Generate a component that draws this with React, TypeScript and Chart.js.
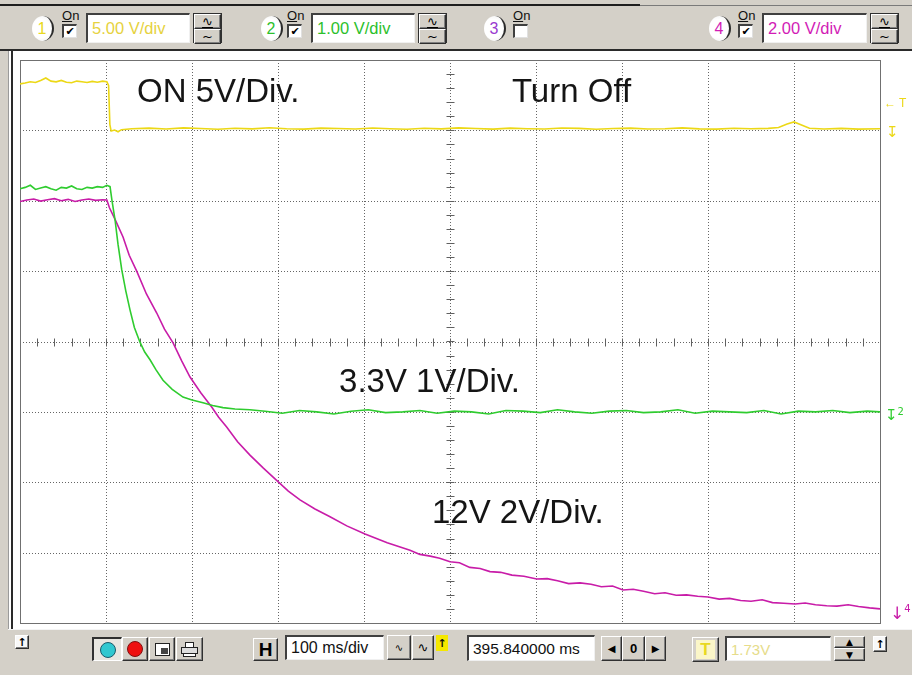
import React, { useEffect, useRef } from "react";
import { Chart, registerables } from "chart.js";

Chart.register(...registerables);

// ---------- data ----------
// Channel 1 (yellow, 5 V/div, ground marker at division 7)
const CH1_TIME_MS = [
  0, 6, 12, 18, 24, 30, 36, 42, 48, 54, 60, 66, 72, 78, 84, 90, 96, 101,
  103, 104.5, 106, 110, 114, 118,
  130, 150, 170, 190, 210, 230, 250, 270, 290, 310, 330, 350, 370, 390, 410, 430, 450, 470, 490,
  510, 530, 550, 570, 590, 610, 630, 650, 670, 690, 710, 730, 750, 770, 790, 810, 830, 850, 870,
  882, 892, 900, 908, 918, 935, 955, 975, 1000,
];
const CH1_VOLTS = [
  3.3, 3.36, 3.45, 3.4, 3.55, 3.72, 3.5, 3.45, 3.55, 3.42, 3.38, 3.5, 3.45, 3.4, 3.48, 3.42, 3.5, 3.45,
  3.2, 0.4, -0.05, 0.02, -0.1, 0.05,
  0.12, 0.16, 0.1, 0.18, 0.13, 0.08, 0.15, 0.11, 0.19, 0.12, 0.09, 0.16, 0.13, 0.1, 0.17, 0.12, 0.08, 0.15, 0.11,
  0.18, 0.13, 0.09, 0.16, 0.12, 0.1, 0.17, 0.14, 0.08, 0.13, 0.16, 0.1, 0.12, 0.18, 0.11, 0.09, 0.15, 0.12, 0.14,
  0.2, 0.45, 0.6, 0.4, 0.15, 0.1, 0.14, 0.09, 0.12,
];

// Channel 2 (green, 1 V/div, ground marker at division 3)
const CH2_TIME_MS = [
  0, 6, 12, 18, 24, 30, 36, 42, 48, 54, 60, 66, 72, 78, 84, 90, 96, 101,
  104.7, 107, 110.5, 114, 118.3, 123, 127.9, 133, 139.5, 145, 151.2, 158, 166.3, 177, 189.5, 200, 212.8, 224, 236, 250, 267.4,
  285, 305, 325, 345, 365, 385, 405, 425, 445, 465, 485, 505, 525, 545, 565, 585, 605, 625, 645, 665,
  685, 705, 725, 745, 765, 785, 805, 825, 845, 865, 885, 905, 925, 945, 965, 985, 1000,
];
const CH2_VOLTS = [
  3.17, 3.19, 3.22, 3.16, 3.18, 3.2, 3.17, 3.15, 3.19, 3.18, 3.21, 3.17, 3.16, 3.19, 3.18, 3.2, 3.19, 3.22,
  3.2, 3.0, 2.73, 2.38, 2.02, 1.72, 1.45, 1.2, 0.99, 0.85, 0.74, 0.6, 0.45, 0.32, 0.21, 0.17, 0.13, 0.09, 0.06, 0.04, 0.03,
  0.01, -0.02, 0.02, 0.0, -0.03, 0.01, 0.03, -0.01, 0.0, 0.02, -0.02, 0.01, 0.0, -0.03, 0.02, 0.01, -0.01, 0.03, 0.0, -0.02,
  0.01, 0.02, -0.01, 0.0, 0.03, -0.02, 0.01, 0.0, -0.01, 0.02, -0.03, 0.01, 0.0, 0.02, -0.01, 0.01, 0.0,
];

// Channel 4 (magenta, 2 V/div, ground at the bottom edge)
const CH4_TIME_MS = [
  0, 8, 16, 24, 32, 40, 48, 56, 64, 72, 80, 88, 96, 101,
  104, 110, 119.8, 127, 135.7, 147, 159, 168, 178, 188, 197.7, 210, 222.9, 231, 240.3, 253, 267.4, 283, 300, 312,
  325.6, 343, 360.5, 380, 401.2, 427,
  453.5, 465, 477, 488, 500, 511, 523, 535, 546.5, 559, 572, 586, 600.8, 613, 625, 638, 651.2, 664, 676, 689,
  701.2, 713, 725, 738, 750, 763, 775, 788, 800, 813, 825, 838, 850, 863, 875, 888, 901.2, 913, 925, 938,
  950, 963, 975, 988, 1000,
];
const CH4_VOLTS = [
  11.98, 12.02, 12.05, 11.99, 12.03, 12.06, 12.0, 12.04, 11.98, 12.02, 12.05, 12.01, 12.03, 12.02,
  11.8, 11.5, 10.97, 10.45, 10.0, 9.35, 8.81, 8.35, 7.96, 7.45, 6.99, 6.55, 6.14, 5.85, 5.57, 5.15, 4.77, 4.4, 4.02, 3.75,
  3.5, 3.24, 3.02, 2.76, 2.53, 2.28,
  2.07, 1.95, 1.9, 1.84, 1.74, 1.71, 1.58, 1.55, 1.46, 1.44, 1.36, 1.33, 1.25, 1.26, 1.2, 1.12, 1.14, 1.1, 1.03, 1.05,
  0.94, 0.96, 0.9, 0.83, 0.86, 0.79, 0.8, 0.76, 0.74, 0.68, 0.7, 0.64, 0.62, 0.66, 0.58, 0.56, 0.54, 0.57, 0.52, 0.49,
  0.48, 0.52, 0.47, 0.43, 0.4,
];

// Channel settings: volts per division and ground position (divisions from bottom)
const CH1_SCALE = 5;
const CH1_GROUND = 7;
const CH2_SCALE = 1;
const CH2_GROUND = 3;
const CH4_SCALE = 2;
const CH4_GROUND = 0;

// Screen: 10 horizontal divisions of 100 ms, 8 vertical divisions
const X_GRID_MS = [100, 200, 300, 400, 500, 600, 700, 800, 900];
const Y_GRID_DIV = [1, 2, 3, 4, 5, 6, 7];
const X_CENTER_MS = 500;
const Y_CENTER_DIV = 4;

// Annotations on the screen (time in ms, baseline in divisions)
const NOTE_TEXTS = ["ON 5V/Div.", "Turn Off", "3.3V 1V/Div.", "12V 2V/Div."];
const NOTE_TIMES = [136, 572, 371, 479];
const NOTE_DIVS = [7.4, 7.4, 3.28, 1.42];

const COL_CH1 = "#ecd816";
const COL_CH2 = "#2fcc2f";
const COL_CH4 = "#c81ca8";

const FONT = '"Liberation Sans", Arial, Helvetica, sans-serif';

function toPoints(times: number[], volts: number[], scale: number, ground: number) {
  const n = Math.min(times.length, volts.length);
  const out: { x: number; y: number }[] = [];
  for (let i = 0; i < n; i++) out.push({ x: times[i], y: ground + volts[i] / scale });
  return out;
}

const scopeGrid = {
  id: "scopeGrid",
  beforeDatasetsDraw(chart: any) {
    const { ctx, chartArea: a, scales } = chart;
    const xs = scales.x;
    const ys = scales.y;
    ctx.save();
    ctx.strokeStyle = "#666666";
    ctx.lineWidth = 1;
    ctx.setLineDash([1, 2]);
    for (const v of X_GRID_MS) {
      const px = Math.round(xs.getPixelForValue(v)) + 0.5;
      ctx.beginPath();
      ctx.moveTo(px, a.top);
      ctx.lineTo(px, a.bottom);
      ctx.stroke();
    }
    for (const v of Y_GRID_DIV) {
      const py = Math.round(ys.getPixelForValue(v)) + 0.5;
      ctx.beginPath();
      ctx.moveTo(a.left, py);
      ctx.lineTo(a.right, py);
      ctx.stroke();
    }
    ctx.setLineDash([]);
    // minor ticks on the centre axes (5 per division)
    const cy = Math.round(ys.getPixelForValue(Y_CENTER_DIV)) + 0.5;
    const cx = Math.round(xs.getPixelForValue(X_CENTER_MS)) + 0.5;
    ctx.strokeStyle = "#606060";
    for (let t = 20; t < 1000; t += 20) {
      const px = Math.round(xs.getPixelForValue(t)) + 0.5;
      ctx.beginPath();
      ctx.moveTo(px, cy - 4);
      ctx.lineTo(px, cy + 4);
      ctx.stroke();
    }
    for (let d = 0.2; d < 8; d += 0.2) {
      const py = Math.round(ys.getPixelForValue(d)) + 0.5;
      ctx.beginPath();
      ctx.moveTo(cx - 4, py);
      ctx.lineTo(cx + 4, py);
      ctx.stroke();
    }
    // frame
    ctx.strokeStyle = "#707070";
    ctx.strokeRect(Math.round(a.left) + 0.5, Math.round(a.top) + 0.5, Math.round(a.right - a.left), Math.round(a.bottom - a.top));
    // notes
    ctx.fillStyle = "#151515";
    ctx.font = `33px ${FONT}`;
    ctx.textAlign = "left";
    ctx.textBaseline = "alphabetic";
    NOTE_TEXTS.forEach((t, i) => {
      ctx.fillText(t, xs.getPixelForValue(NOTE_TIMES[i]), ys.getPixelForValue(NOTE_DIVS[i]));
    });
    ctx.restore();
  },
};

type CSS = React.CSSProperties;
const abs = (x: number, y: number, w: number, h: number): CSS => ({
  position: "absolute",
  left: x,
  top: y,
  width: w,
  height: h,
  boxSizing: "border-box",
});
const raised: CSS = {
  background: "#d4d0c8",
  borderTop: "1px solid #ffffff",
  borderLeft: "1px solid #ffffff",
  borderRight: "1px solid #303030",
  borderBottom: "1px solid #303030",
  boxShadow: "inset -1px -1px 0 #808080",
  display: "flex",
  alignItems: "center",
  justifyContent: "center",
  color: "#000",
};
const sunken: CSS = {
  background: "#ffffff",
  borderTop: "2px solid #404040",
  borderLeft: "2px solid #404040",
  borderRight: "1px solid #f0f0f0",
  borderBottom: "1px solid #f0f0f0",
  display: "flex",
  alignItems: "center",
  paddingLeft: 4,
  whiteSpace: "nowrap",
  overflow: "hidden",
};

function Badge({ x, n, color }: { x: number; n: string; color: string }) {
  return (
    <div
      style={{
        ...abs(x, 16, 22, 25),
        borderRadius: "50%",
        background: "radial-gradient(circle at 45% 50%, #ffffff 55%, #ececec 100%)",
        borderRight: "2px solid #2a2a2a",
        color,
        font: `16px ${FONT}`,
        display: "flex",
        alignItems: "center",
        justifyContent: "center",
      }}
    >
      {n}
    </div>
  );
}

function OnBox({ x, checked }: { x: number; checked: boolean }) {
  return (
    <>
      <div style={{ ...abs(x, 8, 20, 16), font: `13px ${FONT}`, color: "#111", lineHeight: "16px" }}>
        <span style={{ textDecoration: "underline" }}>O</span>n
      </div>
      <div
        style={{
          ...abs(x, 24, 15, 14),
          background: "#fff",
          borderTop: "2px solid #404040",
          borderLeft: "2px solid #404040",
          borderRight: "1px solid #e0e0e0",
          borderBottom: "1px solid #e0e0e0",
          font: `bold 11px "DejaVu Sans", sans-serif`,
          color: "#000",
          display: "flex",
          alignItems: "center",
          justifyContent: "center",
          lineHeight: "10px",
        }}
      >
        {checked ? "✔" : ""}
      </div>
    </>
  );
}

function VoltBox({ x, w, text, color }: { x: number; w: number; text: string; color: string }) {
  return <div style={{ ...abs(x, 13, w, 30), ...sunken, color, font: `16.5px ${FONT}` }}>{text}</div>;
}

function Spin({ x }: { x: number }) {
  const half: CSS = { ...raised, height: 15, font: `13px "DejaVu Sans", sans-serif`, lineHeight: "13px" };
  return (
    <div style={{ ...abs(x, 13, 29, 30), border: "1px solid #303030", display: "flex", flexDirection: "column" }}>
      <div style={{ ...half, textDecoration: "underline" }}>∿</div>
      <div style={half}>~</div>
    </div>
  );
}

export default function App() {
  const ref = useRef<HTMLCanvasElement>(null);

  useEffect(() => {
    if (!ref.current) return;
    const chart = new Chart(ref.current, {
      type: "line",
      data: {
        datasets: [
          {
            label: "CH1",
            data: toPoints(CH1_TIME_MS, CH1_VOLTS, CH1_SCALE, CH1_GROUND),
            borderColor: COL_CH1,
            borderWidth: 1.6,
            pointRadius: 0,
            tension: 0,
          },
          {
            label: "CH2",
            data: toPoints(CH2_TIME_MS, CH2_VOLTS, CH2_SCALE, CH2_GROUND),
            borderColor: COL_CH2,
            borderWidth: 1.6,
            pointRadius: 0,
            tension: 0,
          },
          {
            label: "CH4",
            data: toPoints(CH4_TIME_MS, CH4_VOLTS, CH4_SCALE, CH4_GROUND),
            borderColor: COL_CH4,
            borderWidth: 1.6,
            pointRadius: 0,
            tension: 0,
          },
        ],
      },
      options: {
        responsive: false,
        animation: false,
        devicePixelRatio: 1,
        layout: { padding: { left: 20, top: 9, right: 32, bottom: 6 } },
        plugins: { legend: { display: false }, tooltip: { enabled: false } },
        events: [],
        scales: {
          x: { type: "linear", min: 0, max: 1000, display: false },
          y: { type: "linear", min: 0, max: 8, display: false },
        },
      },
      plugins: [scopeGrid],
    });
    return () => chart.destroy();
  }, []);

  const small: CSS = { position: "absolute", lineHeight: "14px", whiteSpace: "nowrap" };

  return (
    <div style={{ position: "fixed", left: 0, top: 0, width: 912, height: 675, background: "#d4d0c8", overflow: "hidden", fontFamily: FONT }}>
      {/* window edge */}
      <div style={{ ...abs(0, 4, 640, 2), background: "#1e1e1e" }} />
      <div style={{ ...abs(640, 5, 272, 1), background: "#7a7a7a" }} />

      {/* top channel bar */}
      <Badge x={32} n="1" color="#e8d820" />
      <OnBox x={62} checked />
      <VoltBox x={86} w={104} text="5.00 V/div" color="#e6d240" />
      <Spin x={193} />

      <Badge x={261} n="2" color="#2cbf2c" />
      <OnBox x={287} checked />
      <VoltBox x={311} w={104} text="1.00 V/div" color="#2cbf2c" />
      <Spin x={418} />

      <Badge x={484} n="3" color="#9a3ad0" />
      <OnBox x={513} checked={false} />

      <Badge x={709} n="4" color="#d21cb6" />
      <OnBox x={738} checked />
      <VoltBox x={762} w={105} text="2.00 V/div" color="#d21cb6" />
      <Spin x={870} />

      {/* screen panel */}
      <div style={{ ...abs(0, 49, 912, 2), background: "#2a2a2a" }} />
      <div style={{ ...abs(8, 51, 904, 579), background: "#ffffff", borderLeft: "1px solid #9a9a9a" }} />
      <div style={{ ...abs(11, 51, 2, 579), background: "#2a2a2a" }} />
      <div style={{ ...abs(8, 629, 904, 1), background: "#f4f4f4" }} />

      <canvas ref={ref} width={912} height={578} style={{ position: "absolute", left: 0, top: 51, width: 912, height: 578 }} />

      {/* right side markers */}
      <div style={{ ...small, left: 884, top: 96, color: COL_CH1, font: `12px ${FONT}` }}>← T</div>
      <div style={{ ...small, left: 886, top: 123, color: COL_CH1, font: `15px "DejaVu Sans", sans-serif` }}>↧</div>
      <div style={{ ...small, left: 885, top: 406, color: COL_CH2, font: `15px "DejaVu Sans", sans-serif` }}>
        ↧<span style={{ fontSize: 10, verticalAlign: "top" }}>2</span>
      </div>
      <div style={{ ...small, left: 890, top: 603, color: COL_CH4, font: `17px "DejaVu Sans", sans-serif` }}>
        ↓<span style={{ fontSize: 10, verticalAlign: "top" }}>4</span>
      </div>

      {/* bottom bar */}
      <div style={{ ...abs(15, 635, 14, 14), ...raised, background: "#f8f8f8", font: `bold 11px "DejaVu Sans"` }}>↑</div>

      <div style={{ ...abs(92, 637, 30, 24), background: "#e8e6e0", borderTop: "2px solid #303030", borderLeft: "2px solid #303030", borderRight: "1px solid #fff", borderBottom: "1px solid #fff", display: "flex", alignItems: "center", justifyContent: "center" }}>
        <div style={{ width: 16, height: 16, borderRadius: "50%", background: "#30c8d0", border: "1px solid #1a5a6a", boxSizing: "border-box" }} />
      </div>
      <div style={{ ...abs(122, 637, 26, 24), ...raised }}>
        <div style={{ width: 16, height: 16, borderRadius: "50%", background: "#ee1010", border: "1px solid #801010", boxSizing: "border-box" }} />
      </div>
      <div style={{ ...abs(149, 637, 26, 24), ...raised }}>
        <div style={{ width: 15, height: 13, background: "#fff", border: "1px solid #222", boxSizing: "border-box", position: "relative" }}>
          <div style={{ position: "absolute", right: 1, bottom: 1, width: 7, height: 6, background: "#444" }} />
        </div>
      </div>
      <div style={{ ...abs(176, 637, 27, 24), ...raised }}>
        <div style={{ position: "relative", width: 17, height: 15 }}>
          <div style={{ position: "absolute", left: 4, top: 0, width: 9, height: 6, background: "#fff", border: "1px solid #222", boxSizing: "border-box" }} />
          <div style={{ position: "absolute", left: 0, top: 5, width: 17, height: 7, background: "#ddd", border: "1px solid #222", boxSizing: "border-box" }} />
          <div style={{ position: "absolute", left: 2, top: 11, width: 13, height: 4, background: "#fff", border: "1px solid #222", boxSizing: "border-box" }} />
        </div>
      </div>

      <div style={{ ...abs(253, 638, 25, 23), ...raised, font: `bold 19px ${FONT}` }}>H</div>
      <div style={{ ...abs(285, 635, 99, 25), ...sunken, color: "#111", font: `16px ${FONT}` }}>100 ms/div</div>
      <div style={{ ...abs(387, 635, 24, 25), ...raised, font: `10px "DejaVu Sans"` }}>∿</div>
      <div style={{ ...abs(412, 635, 22, 25), ...raised, font: `13px "DejaVu Sans"` }}>∿</div>
      <div style={{ ...abs(436, 635, 12, 16), background: "#f5e800", display: "flex", alignItems: "center", justifyContent: "center", font: `bold 11px "DejaVu Sans"`, color: "#111" }}>↑</div>

      <div style={{ ...abs(467, 635, 128, 26), ...sunken, color: "#111", font: `15.5px ${FONT}` }}>395.840000 ms</div>
      <div style={{ ...abs(601, 636, 21, 25), ...raised, font: `10px "DejaVu Sans"` }}>◀</div>
      <div style={{ ...abs(622, 636, 23, 25), ...raised, font: `bold 13px ${FONT}` }}>0</div>
      <div style={{ ...abs(645, 636, 21, 25), ...raised, font: `10px "DejaVu Sans"` }}>▶</div>

      <div style={{ ...abs(692, 637, 27, 25), ...raised }}>
        <div style={{ width: 19, height: 19, background: "#fbf6c8", display: "flex", alignItems: "center", justifyContent: "center", color: "#e8d820", font: `bold 17px ${FONT}` }}>T</div>
      </div>
      <div style={{ ...abs(725, 636, 106, 25), ...sunken, color: "#e6dc8a", font: `15px ${FONT}` }}>1.73V</div>
      <div style={{ ...abs(834, 636, 31, 25), display: "flex", flexDirection: "column" }}>
        <div style={{ ...raised, height: 12, font: `9px "DejaVu Sans"` }}>▲</div>
        <div style={{ ...raised, height: 13, font: `9px "DejaVu Sans"` }}>▼</div>
      </div>
      <div style={{ ...abs(873, 636, 14, 16), ...raised, background: "#f8f8f8", font: `bold 11px "DejaVu Sans"` }}>↑</div>
    </div>
  );
}
